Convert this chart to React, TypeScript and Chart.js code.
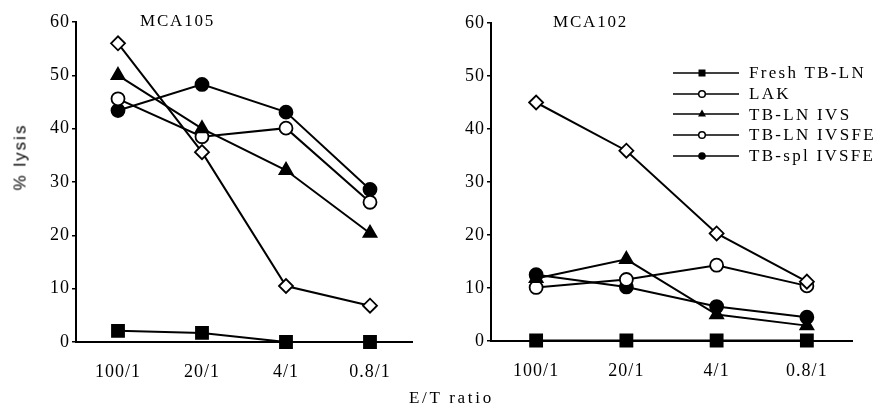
import React, { useEffect, useRef } from 'react';
import { Chart, registerables } from 'chart.js';

Chart.register(...registerables);

// ---------- data ----------
const categories = ['100/1', '20/1', '4/1', '0.8/1'];
const yMin = 0;
const yMax = 60;
const yStep = 10;
const seriesNames = ['Fresh TB-LN', 'LAK', 'TB-LN IVS', 'TB-LN IVSFE', 'TB-spl IVSFE'];

// MCA105 panel
const mca105Fresh = [2.1, 1.7, 0, 0];
const mca105LAK = [56, 35.6, 10.5, 6.8];
const mca105IVS = [50, 40, 32.2, 20.4];
const mca105IVSFE = [45.6, 38.5, 40.1, 26.2];
const mca105SplIVSFE = [43.4, 48.3, 43.1, 28.6];

// MCA102 panel
const mca102Fresh = [0.1, 0.1, 0.1, 0.1];
const mca102LAK = [45, 35.9, 20.3, 11.2];
const mca102IVS = [11.8, 15.4, 5.0, 2.9];
const mca102IVSFE = [10.1, 11.6, 14.3, 10.4];
const mca102SplIVSFE = [12.5, 10.2, 6.5, 4.5];

// ---------- styles ----------
const SERIF = '"Liberation Serif", "Times New Roman", serif';
const SANS = '"Liberation Sans", Arial, sans-serif';

type MarkerKind = 'square' | 'diamond' | 'triangle' | 'circleOpen' | 'circleFilled';
const chartMarkers: MarkerKind[] = ['square', 'diamond', 'triangle', 'circleOpen', 'circleFilled'];
const legendMarkers: MarkerKind[] = ['square', 'circleOpen', 'triangle', 'circleOpen', 'circleFilled'];

function markerStyle(kind: MarkerKind) {
  switch (kind) {
    case 'square':
      return { pointStyle: 'rect', pointRadius: 8.5, pointBackgroundColor: '#000' };
    case 'diamond':
      return { pointStyle: 'rectRot', pointRadius: 7, pointBackgroundColor: '#fff' };
    case 'triangle':
      return { pointStyle: 'triangle', pointRadius: 7.5, pointBackgroundColor: '#000' };
    case 'circleOpen':
      return { pointStyle: 'circle', pointRadius: 6.5, pointBackgroundColor: '#fff' };
    default:
      return { pointStyle: 'circle', pointRadius: 6.5, pointBackgroundColor: '#000' };
  }
}

const spacingPlugin = {
  id: 'letterSpacing',
  beforeDraw(chart: any) {
    (chart.ctx as any).letterSpacing = '1px';
  },
};

function buildConfig(series: number[][], box: { yWidth: number; right: number; top: number; bottom: number }) {
  const datasets = series.map((values, i) => ({
    label: seriesNames[i],
    data: values,
    borderColor: '#000',
    borderWidth: 2,
    pointBorderColor: '#000',
    pointBorderWidth: 1.8,
    fill: false,
    tension: 0,
    clip: false as any,
    ...markerStyle(chartMarkers[i]),
  }));
  return {
    type: 'line' as const,
    data: { labels: categories, datasets },
    plugins: [spacingPlugin],
    options: {
      responsive: false,
      animation: false as const,
      devicePixelRatio: 1,
      events: [],
      layout: { padding: { left: 0, right: box.right, top: box.top, bottom: box.bottom } },
      plugins: { legend: { display: false }, tooltip: { enabled: false }, title: { display: false } },
      scales: {
        x: {
          type: 'category' as const,
          offset: true,
          grid: { display: false },
          border: { display: true, color: '#000', width: 2 },
          ticks: { color: '#000', font: { family: SERIF, size: 18 }, padding: 11, maxRotation: 0 },
          afterFit: (s: any) => {
            s.height = 40;
          },
        },
        y: {
          min: yMin,
          max: yMax,
          grid: { display: true, drawOnChartArea: false, tickLength: 4, color: '#000', lineWidth: 1.5 },
          border: { display: true, color: '#000', width: 2 },
          ticks: { stepSize: yStep, color: '#000', font: { family: SERIF, size: 18 }, padding: 2 },
          afterFit: (s: any) => {
            s.width = box.yWidth;
          },
        },
      },
    },
  };
}

function Panel(props: { series: number[][]; left: number; width: number; box: any }) {
  const ref = useRef<HTMLCanvasElement | null>(null);
  useEffect(() => {
    if (!ref.current) return;
    const chart = new Chart(ref.current, buildConfig(props.series, props.box) as any);
    return () => chart.destroy();
  }, []);
  return (
    <canvas
      ref={ref}
      width={props.width}
      height={411}
      style={{ position: 'absolute', left: props.left, top: 0, width: props.width, height: 411 }}
    />
  );
}

function Label(props: { x: number; baseline: number; size: number; family: string; spacing: number; text: string }) {
  const k = props.family === SANS ? 0.8465 : 0.8375;
  return (
    <div
      style={{
        position: 'absolute',
        left: props.x,
        top: props.baseline - k * props.size,
        fontFamily: props.family,
        fontSize: props.size,
        lineHeight: `${props.size}px`,
        letterSpacing: props.spacing,
        whiteSpace: 'nowrap',
        color: '#000',
      }}
    >
      {props.text}
    </div>
  );
}

function LegendMarker(props: { kind: MarkerKind }) {
  const cx = 29;
  const cy = 6;
  let m: any = null;
  if (props.kind === 'square') m = <rect x={cx - 3.5} y={cy - 3.5} width={7} height={7} fill="#000" />;
  else if (props.kind === 'triangle')
    m = <polygon points={`${cx},${cy - 4.5} ${cx + 4},${cy + 2.5} ${cx - 4},${cy + 2.5}`} fill="#000" />;
  else if (props.kind === 'circleOpen') m = <circle cx={cx} cy={cy} r={3.3} fill="#fff" stroke="#000" strokeWidth={1.5} />;
  else m = <circle cx={cx} cy={cy} r={3.8} fill="#000" />;
  return (
    <svg width={66} height={12} style={{ position: 'absolute', left: 0, top: 0 }}>
      <line x1={0} y1={cy} x2={66} y2={cy} stroke="#000" strokeWidth={1.7} />
      {m}
    </svg>
  );
}

export default function App() {
  const rowY = [72.7, 93.5, 114.3, 135, 155.5];
  return (
    <div style={{ position: 'absolute', left: 0, top: 0, width: 891, height: 411, background: '#fff', overflow: 'hidden' }}>
      <Panel
        series={[mca105Fresh, mca105LAK, mca105IVS, mca105IVSFE, mca105SplIVSFE]}
        left={0}
        width={445}
        box={{ yWidth: 76, right: 33, top: 22, bottom: 29 }}
      />
      <Panel
        series={[mca102Fresh, mca102LAK, mca102IVS, mca102IVSFE, mca102SplIVSFE]}
        left={445}
        width={446}
        box={{ yWidth: 46, right: 39, top: 23, bottom: 30 }}
      />
      <Label x={140} baseline={26} size={17} family={SERIF} spacing={1.8} text="MCA105" />
      <Label x={553} baseline={27} size={17} family={SERIF} spacing={1.8} text="MCA102" />
      <Label x={409} baseline={403} size={17} family={SERIF} spacing={2.7} text="E/T ratio" />
      <div
        style={{
          position: 'absolute',
          left: 19.5,
          top: 157,
          transform: 'translate(-50%, -50%) rotate(-90deg)',
          fontFamily: SANS,
          fontSize: 17,
          lineHeight: '17px',
          letterSpacing: 2,
          whiteSpace: 'nowrap',
          color: '#000',
        }}
      >
        % lysis
      </div>
      {seriesNames.map((name, i) => (
        <div key={name} style={{ position: 'absolute', left: 673, top: rowY[i] - 6, width: 66, height: 12 }}>
          <LegendMarker kind={legendMarkers[i]} />
        </div>
      ))}
      {seriesNames.map((name, i) => (
        <Label key={'t' + name} x={749} baseline={rowY[i] + 5.6} size={17} family={SERIF} spacing={2.3} text={name} />
      ))}
    </div>
  );
}
